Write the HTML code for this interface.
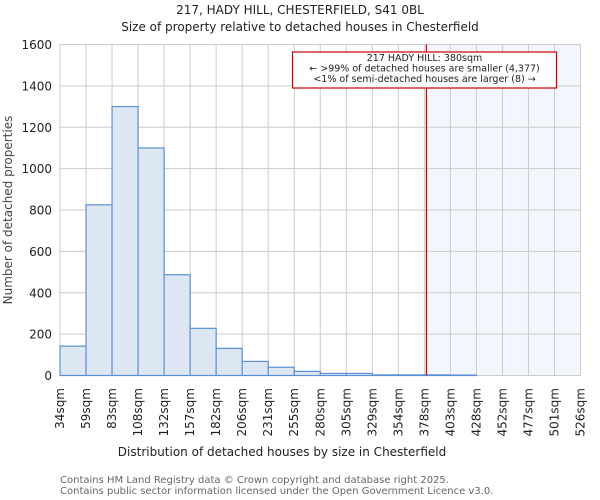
<!DOCTYPE html>
<html><head><meta charset="utf-8"><style>
body{margin:0;background:#fff;}
svg{display:block;font-family:"DejaVu Sans","Liberation Sans",sans-serif;}
</style></head><body>
<svg id="chart" width="600" height="500" viewBox="0 0 600 500">
<text x="300" y="14" text-anchor="middle" font-size="12" fill="#222">217, HADY HILL, CHESTERFIELD, S41 0BL</text>
<text x="300" y="31" text-anchor="middle" font-size="12" fill="#222">Size of property relative to detached houses in Chesterfield</text>
<g id="plot"></g>
<text x="282" y="456" text-anchor="middle" font-size="12" fill="#222">Distribution of detached houses by size in Chesterfield</text>
<text x="12" y="210" text-anchor="middle" font-size="12" fill="#444" transform="rotate(-90 12 210)">Number of detached properties</text>
<text x="60" y="483" font-size="10" fill="#666">Contains HM Land Registry data © Crown copyright and database right 2025.</text>
<text x="60" y="494" font-size="10" fill="#666">Contains public sector information licensed under the Open Government Licence v3.0.</text>
</svg>
<script>
const binLabels = ["34sqm","59sqm","83sqm","108sqm","132sqm","157sqm","182sqm","206sqm","231sqm","255sqm","280sqm","305sqm","329sqm","354sqm","378sqm","403sqm","428sqm","452sqm","477sqm","501sqm","526sqm"];
const counts = [142,825,1300,1100,487,228,131,68,40,20,10,10,3,3,3,2,0,0,0,0];
const yTicks = [0,200,400,600,800,1000,1200,1400,1600];
const propertyIndex = 14.08;

const L=60,R=580.5,T=44.5,B=375.5,yMax=1600;
const nb=counts.length;
const xs=i=>L+(R-L)*i/nb;
const ys=v=>B-(B-T)*v/yMax;
const NS="http://www.w3.org/2000/svg";
const g=document.getElementById('plot');
function mk(t,a){const e=document.createElementNS(NS,t);for(const k in a)e.setAttribute(k,a[k]);g.appendChild(e);return e;}

const sh=mk('rect',{x:xs(propertyIndex),y:T,width:R-xs(propertyIndex),height:B-T,fill:'#f3f6fd'});


for(let i=0;i<=nb;i++){
  const l=mk('line',{x1:xs(i),x2:xs(i),y1:T,y2:B,stroke:'#cccccc','stroke-width':1});
  
  
}
yTicks.forEach(v=>{
  const l=mk('line',{x1:L,x2:R,y1:ys(v),y2:ys(v),stroke:'#cccccc','stroke-width':1});
  
  
  const t=mk('text',{x:L-8,y:ys(v)+4.5,'text-anchor':'end','font-size':'12',fill:'#222'});
  t.textContent=v;
  
  
});
counts.forEach((c,i)=>{
  if(c<=0)return;
  const r=mk('rect',{x:xs(i),y:ys(c),width:xs(i+1)-xs(i),height:B-ys(c),fill:'#dde7f4',stroke:'#5b8fd6','stroke-width':1.2});
  
  
});
binLabels.forEach((s,i)=>{
  const x=xs(i)+4,y=388;
  const t=mk('text',{x:x,y:y,'text-anchor':'end','font-size':'12',fill:'#222',transform:`rotate(-90 ${x} ${y})`});
  t.textContent=s;
  
  
});
const pl=mk('line',{x1:xs(propertyIndex),x2:xs(propertyIndex),y1:T,y2:B,stroke:'#cc0000','stroke-width':1.2});


const bx=mk('rect',{x:292.5,y:52,width:264,height:36,fill:'#fff',stroke:'#cc0000','stroke-width':1.2});


[["217 HADY HILL: 380sqm",61],["← >99% of detached houses are smaller (4,377)",71.5],["<1% of semi-detached houses are larger (8) →",82]].forEach(([s,y])=>{
  const t=mk('text',{x:424.5,y:y,'text-anchor':'middle','font-size':'9.5',fill:'#222'});
  t.textContent=s;
  
  
});
</script>
</body></html>
